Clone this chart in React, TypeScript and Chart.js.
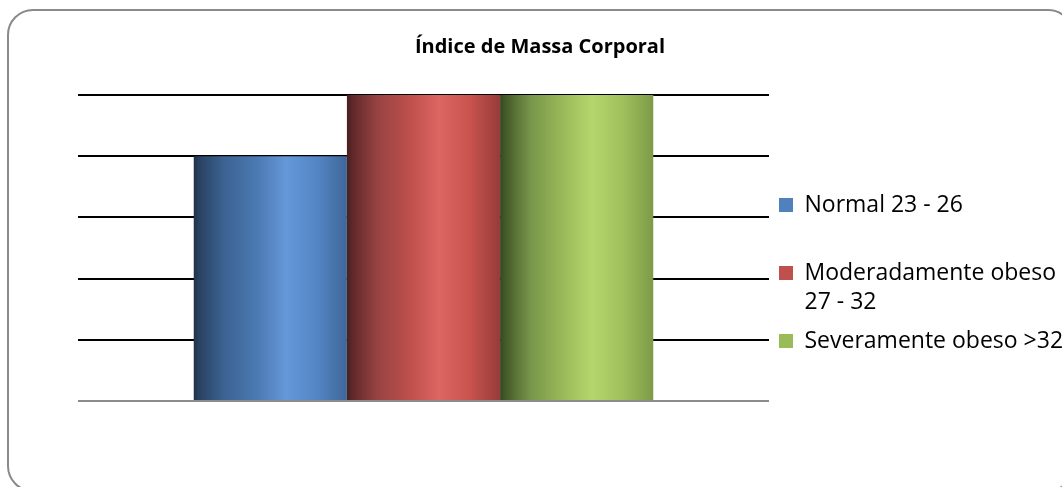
import React, { useEffect, useRef } from 'react';
import { Chart, registerables } from 'chart.js';

Chart.register(...registerables);

const categories = [''];
const seriesNames = ['Normal 23 - 26', 'Moderadamente obeso 27 - 32', 'Severamente obeso >32'];
const legendLines: (string | string[])[] = [
  ['Normal 23 - 26', ''],
  ['Moderadamente obeso', '27 - 32'],
  'Severamente obeso >32',
];
const normalValues = [4];
const moderateValues = [5];
const severeValues = [5];
const yMin = 0;
const yMax = 5;
const yStep = 1;
const titleText = 'Índice de Massa Corporal';

const baseColors = ['#4f81bd', '#c0504d', '#9bbb59'];
const gradientStops: [number, string][][] = [
  [[0, '#1f3149'], [0.04, '#2a4364'], [0.2, '#3c6393'], [0.42, '#4b7ab3'], [0.6, '#6598d8'], [0.8, '#5486c6'], [1, '#3f6698']],
  [[0, '#4a1f1f'], [0.04, '#62292a'], [0.2, '#974341'], [0.42, '#c0504d'], [0.6, '#dc6662'], [0.8, '#c9534f'], [1, '#963c39']],
  [[0, '#36481f'], [0.04, '#465c2a'], [0.2, '#77964a'], [0.42, '#9bbb59'], [0.6, '#b4d66e'], [0.8, '#a0c05c'], [1, '#7d9a48']],
];

const gradientPlugin = {
  id: 'barGradient',
  beforeDatasetsDraw(chart: any) {
    const ctx = chart.ctx;
    chart.data.datasets.forEach((_ds: any, di: number) => {
      const meta = chart.getDatasetMeta(di);
      meta.data.forEach((el: any) => {
        const { x, width } = el.getProps(['x', 'width'], true);
        const left = x - width / 2;
        const g = ctx.createLinearGradient(left, 0, left + width, 0);
        gradientStops[di].forEach(([o, c]) => g.addColorStop(o, c));
        el.options.backgroundColor = g;
      });
    });
  },
};

export default function App() {
  const canvasRef = useRef<HTMLCanvasElement | null>(null);

  useEffect(() => {
    const canvas = canvasRef.current;
    if (!canvas) return;
    const seriesValues = [normalValues, moderateValues, severeValues];
    const chart = new Chart(canvas, {
      type: 'bar',
      data: {
        labels: categories,
        datasets: seriesNames.map((name, i) => ({
          label: name,
          data: seriesValues[i],
          backgroundColor: (c: any) => baseColors[c.datasetIndex],
          borderWidth: 0,
        })),
      },
      options: {
        responsive: false,
        animation: false,
        layout: { padding: { left: 17, right: -1, top: 0, bottom: 0 } },
        datasets: { bar: { categoryPercentage: 0.665, barPercentage: 1 } },
        scales: {
          x: {
            display: true,
            grid: { display: false },
            border: { display: false },
            ticks: { display: false },
            afterFit: (s: any) => { s.height = 145; },
          },
          y: {
            min: yMin,
            max: yMax,
            ticks: { display: false, stepSize: yStep },
            border: { display: false },
            grid: {
              color: (c: any) => (c.tick && c.tick.value === 0 ? '#8c8c8c' : '#000000'),
              lineWidth: 2,
              drawTicks: false,
            },
            afterFit: (s: any) => { s.width = 61; },
          },
        },
        plugins: {
          title: {
            display: true,
            text: titleText,
            color: '#000000',
            font: { family: 'Open Sans', size: 20, weight: 'bold', lineHeight: 1.2 },
            padding: { top: 35, bottom: 36 },
          },
          legend: {
            position: 'right',
            align: 'center',
            maxWidth: 294,
            labels: {
              boxWidth: 14,
              boxHeight: 14,
              padding: 10,
              color: '#000000',
              font: { family: 'Open Sans', size: 23, lineHeight: 29 / 23 },
              generateLabels: (ch: any) =>
                ch.data.datasets.map((ds: any, i: number) => ({
                  text: legendLines[i],
                  fillStyle: baseColors[i],
                  strokeStyle: baseColors[i],
                  lineWidth: 0,
                  hidden: false,
                  datasetIndex: i,
                })),
            },
          },
          tooltip: { enabled: false },
        },
      } as any,
      plugins: [gradientPlugin],
    });
    return () => chart.destroy();
  }, []);

  return (
    <div style={{ position: 'fixed', left: 0, top: 0, width: 1062, height: 487, overflow: 'hidden', background: '#ffffff' }}>
      <div
        style={{
          position: 'absolute',
          left: 7,
          top: 9,
          width: 1067,
          height: 483,
          border: '2px solid #8a8a8a',
          borderRadius: 26,
          boxSizing: 'border-box',
        }}
      />
      <canvas ref={canvasRef} width={1062} height={546} style={{ position: 'absolute', left: 0, top: 0, width: 1062, height: 546 }} />
    </div>
  );
}
